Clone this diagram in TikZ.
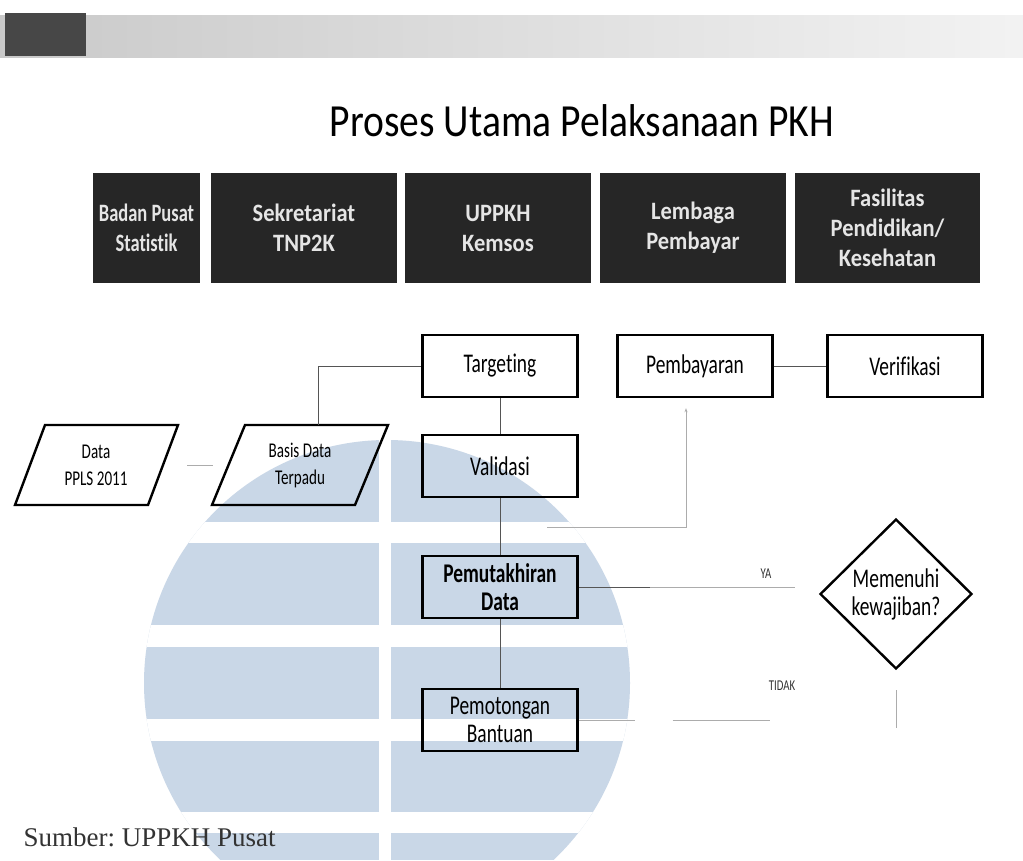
\documentclass[tikz,border=0pt]{standalone}
\usepackage{fontspec}
\defaultfontfeatures{Ligatures=NoCommon,Contextuals=NoAlternate}
\setmainfont{Carlito}
\newfontfamily\titlefont[FakeStretch=0.86]{Carlito}
\newfontfamily\flowfont[FakeStretch=0.72]{Carlito}
\newfontfamily\actorfont[FakeStretch=0.9]{Carlito}
\newfontfamily\actornarrow[FakeStretch=0.74]{Carlito}
\newfontfamily\sourcefont{Liberation Serif}
\usetikzlibrary{shapes.geometric,arrows.meta}
\definecolor{wmblue}{RGB}{201,215,231}
\definecolor{actorfill}{RGB}{38,38,38}
\definecolor{linkgray}{RGB}{85,85,85}
\frenchspacing

\begin{document}
\begin{tikzpicture}[x=1pt,y=-1pt,
    actor/.style={fill=actorfill, text=white!90!black, minimum height=110, inner sep=2,
      align=center, font=\actorfont\bfseries\fontsize{25}{30}\selectfont},
    flowbox/.style={draw=black, line width=2.4, minimum width=155, minimum height=62,
      inner ysep=2, align=center, font=\flowfont\fontsize{27}{28}\selectfont},
    datatext/.style={align=center, font=\flowfont\fontsize{21}{27}\selectfont},
    link/.style={draw=linkgray, line width=0.9},
    faint/.style={draw=gray!65, line width=0.8},
    tag/.style={font=\flowfont\fontsize{15}{16}\selectfont, text=black!80}]

  \clip (0,0) rectangle (1023,860);
  \fill[white] (0,0) rectangle (1023,860);

  % Watermark globe (light blue bands)
  \begin{scope}
    \clip (387,683) circle (243);
    \fill[wmblue] (140,435) rectangle (635,860);
    \foreach \ya/\yb in {522/543, 625/647, 719/741, 812/833}
      \fill[white] (140,\ya) rectangle (635,\yb);
    \fill[white] (379,435) rectangle (391,860);
  \end{scope}

  % Top banner
  \shade[left color=gray!42, right color=gray!10] (0,15) rectangle (1023,57);
  \fill[black!72] (5,13) rectangle (86,56);

  % Title
  \node[font=\titlefont\fontsize{46}{50}\selectfont, anchor=base] (title) at (582,136)
    {Proses Utama Pelaksanaan PKH};

  % Actor boxes (dark)
  \node[actor, minimum width=107, font=\actornarrow\bfseries\fontsize{25}{30}\selectfont]
    (bps) at (146.5,228) {Badan Pusat\\Statistik};
  \node[actor, minimum width=186] (tnp) at (304,228) {Sekretariat\\TNP2K};
  \node[actor, minimum width=186] (kemsos) at (498,228) {UPPKH\\Kemsos};
  \node[actor, minimum width=186] (bayar) at (693,228) {Lembaga\\Pembayar};
  \node[actor, minimum width=185] (faskes) at (887.5,228) {Fasilitas\\Pendidikan/\\Kesehatan};

  % Data stores (parallelograms)
  \draw[line width=2.4] (15,505) -- (45,425) -- (178,425) -- (148,505) -- cycle;
  \node[datatext] (ppls) at (96,465) {Data\\PPLS 2011};
  \draw[line width=2.4] (212,505) -- (245,425) -- (388,425) -- (355,505) -- cycle;
  \node[datatext] (bdt) at (300,465) {Basis Data\\Terpadu};
  \coordinate (bdttop) at (318,425);

  % Process boxes
  \node[flowbox] (target) at (500,366) {Targeting};
  \node[flowbox] (valid) at (500,466) {Validasi};
  \node[flowbox, font=\flowfont\bfseries\fontsize{27}{28}\selectfont] (update) at (500,587)
    {Pemutakhiran\\Data};
  \node[flowbox] (cut) at (500,720) {Pemotongan\\Bantuan};
  \node[flowbox] (pay) at (695,366) {Pembayaran};
  \node[flowbox] (verify) at (905,366) {Verifikasi};

  % Decision
  \node[diamond, draw=black, line width=2.4, minimum width=152, minimum height=150,
    inner sep=0, align=center, font=\flowfont\fontsize{27}{28}\selectfont] (cek) at (896,594)
    {Memenuhi\\kewajiban?};

  % Connectors
  \draw[faint, shorten <=91, shorten >=87] (ppls.center) -- (bdt.center);
  \draw[link] (bdttop) |- (target.west);
  \draw[link] (target) -- (valid);
  \draw[link] (valid) -- (update);
  \draw[link] (update) -- (cut);
  \draw[link] (pay) -- (verify);

  % Return line up to payment
  \coordinate (retstart) at (547,527);
  \coordinate (retcorner) at (686,527);
  \draw[faint, -{Stealth[length=4pt,width=3pt]}, shorten >=10]
    (retstart) -- (retcorner) -- (retcorner |- pay.south);

  % YA / TIDAK branches
  \coordinate (yamid) at (650,587);
  \coordinate (yaend) at (795,587);
  \draw[link] (update.east) -- (yamid);
  \draw[faint] (yamid) -- (yaend);
  \node[tag] (ya) at (766,574) {YA};

  \coordinate (tidakend) at (770,720);
  \draw[faint, dash pattern=on 56pt off 38pt on 200pt] (cut.east) -- (tidakend);
  \node[tag] (tidak) at (782,686) {TIDAK};

  \coordinate (cekfoot) at (896,728);
  \draw[faint, shorten <=20] (cek.south) -- (cekfoot);

  % Source note
  \node[font=\sourcefont\fontsize{27}{30}\selectfont, text=black!80, anchor=base west]
    (source) at (20,846) {Sumber: UPPKH Pusat};

\end{tikzpicture}
\end{document}
